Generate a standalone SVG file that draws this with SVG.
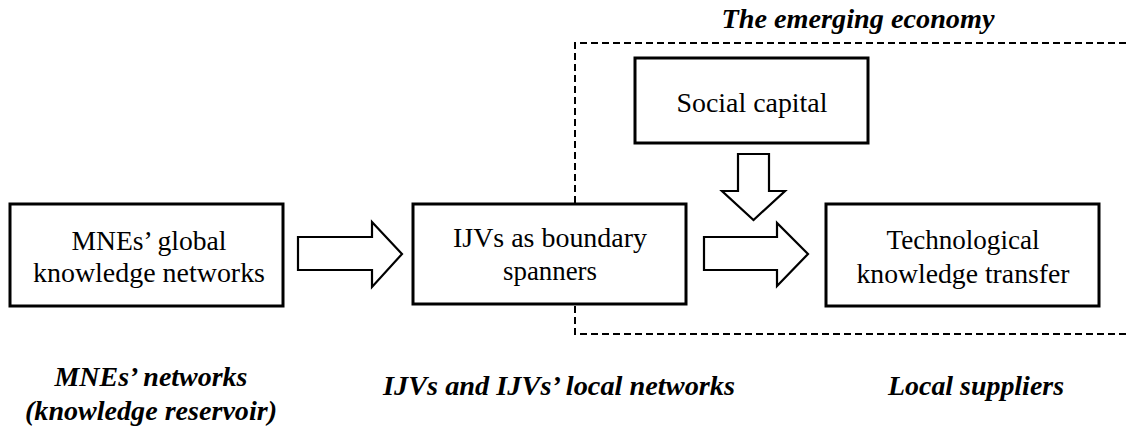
<svg xmlns="http://www.w3.org/2000/svg" width="1126" height="433" viewBox="0 0 1126 433">
<style>
.box{fill:#fff;stroke:#000;stroke-width:3}
.arr{fill:#fff;stroke:#000;stroke-width:2.2;stroke-linejoin:miter}
.t{font-size:27px;fill:#000;text-anchor:middle}
.bi{font-size:27px;font-weight:bold;font-style:italic;fill:#000;text-anchor:middle}
.dash{fill:none;stroke:#000;stroke-width:2;stroke-dasharray:7 4}
</style>
<rect width="1126" height="433" fill="#fff"/>
<g font-family="Liberation Serif, Times New Roman, DejaVu Serif, serif">
<g id="emerging-economy">
<path class="dash" d="M1126,43 H575 V334 H1126"/>
<text class="bi" x="858" y="28" textLength="273" lengthAdjust="spacingAndGlyphs">The emerging economy</text>
</g>
<g id="mnes">
<rect class="box" x="10" y="204" width="273" height="102"/>
<text class="t" x="149" y="250" textLength="155" lengthAdjust="spacingAndGlyphs">MNEs’ global</text>
<text class="t" x="149" y="282" textLength="232" lengthAdjust="spacingAndGlyphs">knowledge  networks</text>
</g>
<g id="ijvs">
<rect class="box" x="413" y="204" width="273" height="100"/>
<text class="t" x="550" y="247" textLength="194" lengthAdjust="spacingAndGlyphs">IJVs as boundary</text>
<text class="t" x="550" y="280" textLength="94" lengthAdjust="spacingAndGlyphs">spanners</text>
</g>
<g id="social">
<rect class="box" x="635" y="58" width="233" height="85"/>
<text class="t" x="752" y="112" textLength="151" lengthAdjust="spacingAndGlyphs">Social capital</text>
</g>
<g id="tech">
<rect class="box" x="826" y="204" width="273" height="102"/>
<text class="t" x="963" y="249" textLength="153" lengthAdjust="spacingAndGlyphs">Technological</text>
<text class="t" x="963" y="283" textLength="213" lengthAdjust="spacingAndGlyphs">knowledge  transfer</text>
</g>
<g id="connectors">
<path class="arr" d="M298,237 H372 V222 L402,254 L372,287 V270 H298 Z"/>
<path class="arr" d="M704,237 H777 V223 L808,254 L777,286 V270 H704 Z"/>
<path class="arr" d="M738,154 H769 V191 H785 L753.5,220 L722,191 H738 Z"/>
</g>
<g id="labels">
<text class="bi" x="151" y="386" textLength="193" lengthAdjust="spacingAndGlyphs">MNEs’ networks</text>
<text class="bi" x="151" y="420" textLength="252" lengthAdjust="spacingAndGlyphs">(knowledge reservoir)</text>
<text class="bi" x="559" y="395" textLength="352" lengthAdjust="spacingAndGlyphs">IJVs and IJVs’ local networks</text>
<text class="bi" x="976" y="395" textLength="176" lengthAdjust="spacingAndGlyphs">Local suppliers</text>
</g>
</g>
</svg>
